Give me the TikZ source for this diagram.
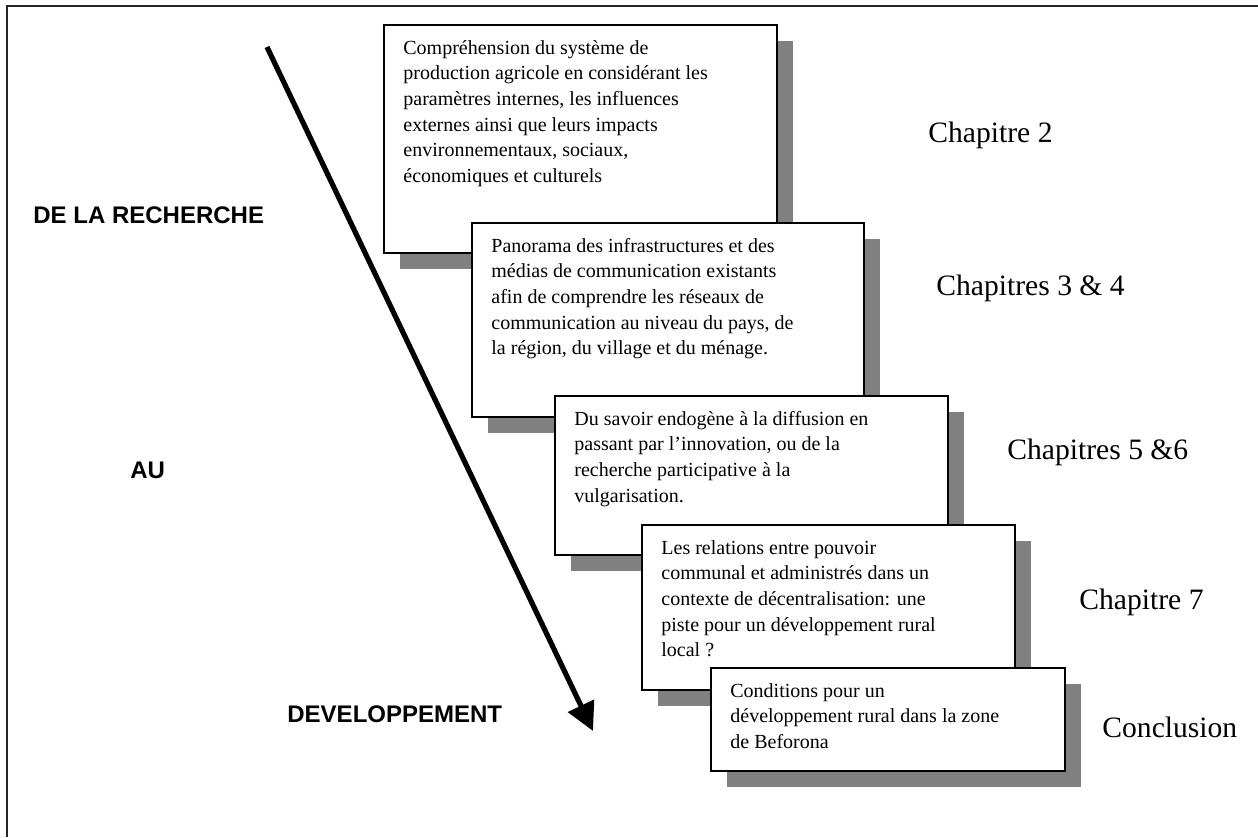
\documentclass[tikz,border=0pt]{standalone}
\usepackage{fontspec}
\setmainfont{Liberation Serif}
\newfontfamily\phasefont{Liberation Sans}
\usetikzlibrary{arrows.meta,shadows}
\definecolor{shadegray}{HTML}{808080}
\begin{document}
\begin{tikzpicture}[x=0.5pt,y=-0.5pt,
  stage/.style={draw=black, line width=1pt, fill=white, anchor=north west,
    inner sep=0pt, minimum width=#1,
    drop shadow={shadow xshift=8pt, shadow yshift=-8pt, fill=shadegray, opacity=1}},
  stagetext/.style={anchor=north west, align=left, inner sep=0pt,
    font=\fontsize{10}{12.8}\selectfont},
  chapter/.style={anchor=west, inner sep=0pt, font=\fontsize{14.8}{17}\selectfont},
  phase/.style={anchor=west, inner sep=0pt, font=\phasefont\bfseries\fontsize{12}{14}\selectfont}]

% page area and open frame
\useasboundingbox (0,0) rectangle (1258,837);
\coordinate (fbl) at (7,837);
\coordinate (ftl) at (7,6);
\coordinate (ftr) at (1258,6);
\draw[line width=1pt, black!85] (fbl) -- (ftl) -- (ftr);

% the long arrow from research to development
\coordinate (astart) at (267,47);
\coordinate (aend) at (593,731);
\draw[line width=2.6pt, -{Triangle[length=14pt,width=14pt]}] (astart) -- (aend);

\node[phase] (lr) at (33,215) {DE LA RECHERCHE};
\node[phase] (lau) at (130,470) {AU};
\node[phase] (ld) at (287,714) {DEVELOPPEMENT};

% stage boxes, each drawn over the shadow of the previous one
\node[stage=196.5pt, minimum height=114pt] (b1) at (383,24) {};
\node[stagetext] (t1) at ([xshift=10pt,yshift=-6pt]b1.north west)
  {\strut Compréhension du système de\\
   production agricole en considérant les\\
   paramètres internes, les influences\\
   externes ainsi que leurs impacts\\
   environnementaux, sociaux,\\
   économiques et culturels};

\node[stage=196pt, minimum height=97pt] (b2) at (471,222) {};
\node[stagetext] (t2) at ([xshift=10pt,yshift=-6pt]b2.north west)
  {\strut Panorama des infrastructures et des\\
   médias de communication existants\\
   afin de comprendre les réseaux de\\
   communication au niveau du pays, de\\
   la région, du village et du ménage.};

\node[stage=196.5pt, minimum height=79.5pt] (b3) at (554,395) {};
\node[stagetext] (t3) at ([xshift=10pt,yshift=-6pt]b3.north west)
  {\strut Du savoir endogène à la diffusion en\\
   passant par l'innovation, ou de la\\
   recherche participative à la\\
   vulgarisation.};

\node[stage=186.5pt, minimum height=82.5pt] (b4) at (641,524) {};
\node[stagetext] (t4) at ([xshift=10pt,yshift=-6pt]b4.north west)
  {\strut Les relations entre pouvoir\\
   communal et administrés dans un\\
   contexte de décentralisation: une\\
   piste pour un développement rural\\
   local ?};

\node[stage=177pt, minimum height=51.5pt] (b5) at (710,667) {};
\node[stagetext] (t5) at ([xshift=10pt,yshift=-6pt]b5.north west)
  {\strut Conditions pour un\\
   développement rural dans la zone\\
   de Beforona};

% chapter references
\node[chapter] (c1) at (928,135) {Chapitre 2};
\node[chapter] (c2) at (936,288) {Chapitres 3 \& 4};
\node[chapter] (c3) at (1007,452) {Chapitres 5 \&6};
\node[chapter] (c4) at (1079,602) {Chapitre 7};
\node[chapter] (c5) at (1102,727) {Conclusion};
\end{tikzpicture}
\end{document}
